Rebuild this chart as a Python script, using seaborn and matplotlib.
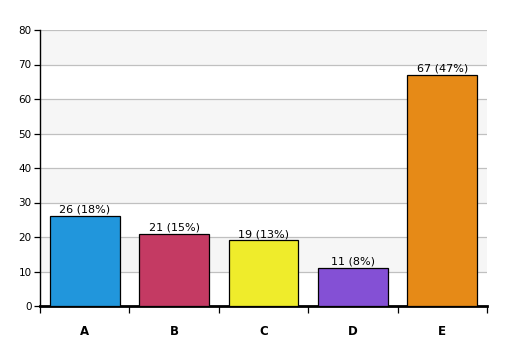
import matplotlib
matplotlib.use("Agg")
import matplotlib.pyplot as plt
import seaborn as sns
import pandas as pd
from matplotlib.ticker import FixedLocator

categories = ["A", "B", "C", "D", "E"]
counts = [26, 21, 19, 11, 67]
percents = [18, 15, 13, 8, 47]
colors = ["#2196dc", "#c43a63", "#efec2b", "#8450d5", "#e68a17"]
yticks = [0, 10, 20, 30, 40, 50, 60, 70, 80]

sns.set_style("white")
plt.rcParams["font.family"] = ["DejaVu Sans"]
plt.rcParams["text.color"] = "black"
plt.rcParams["xtick.color"] = "black"
plt.rcParams["ytick.color"] = "black"

df = pd.DataFrame({"cat": categories, "count": counts})

fig = plt.figure(figsize=(5.07, 3.56), dpi=100)
ax = fig.add_axes([40 / 507, 50 / 356, 447 / 507, 276 / 356])

# alternating bands
for i in range(len(yticks) - 1):
    lo, hi = yticks[i], yticks[i + 1]
    if i % 2 == 1:
        ax.axhspan(lo, hi, color="#f6f6f6", zorder=0, lw=0)

sns.barplot(data=df, x="cat", y="count", hue="cat", palette=colors, legend=False,
            saturation=1, width=0.78, edgecolor="black", linewidth=0.9, ax=ax, zorder=3)

ax.set_ylim(0, 80)
ax.set_xlim(-0.5, len(categories) - 0.5)
ax.set_yticks(yticks)
ax.yaxis.grid(True, color="#c0c0c0", linewidth=0.9, zorder=1)
ax.set_axisbelow(True)

for i, (c, p) in enumerate(zip(counts, percents)):
    ax.text(i, c + 0.4, f"{c} ({p}%)", ha="center", va="bottom", fontsize=8,
            color="black", zorder=5)

ax.set_xlabel("")
ax.set_ylabel("")
ax.tick_params(axis="x", which="major", length=0, pad=14, labelsize=8.5, labelcolor="black")
for lbl in ax.get_xticklabels():
    lbl.set_fontweight("bold")
ax.xaxis.set_minor_locator(FixedLocator([x - 0.5 for x in range(len(categories) + 1)]))
ax.tick_params(axis="x", which="minor", length=5, width=0.9, color="black", direction="out", bottom=True)
ax.tick_params(axis="y", length=4, width=0.9, color="black", direction="out", left=True,
               labelsize=7.5, pad=2, labelcolor="black")

for s in ["top", "right"]:
    ax.spines[s].set_visible(False)
ax.spines["left"].set_color("black")
ax.spines["left"].set_linewidth(1.0)
ax.spines["bottom"].set_color("black")
ax.spines["bottom"].set_linewidth(2.0)

fig.savefig("out.png", dpi=100)
